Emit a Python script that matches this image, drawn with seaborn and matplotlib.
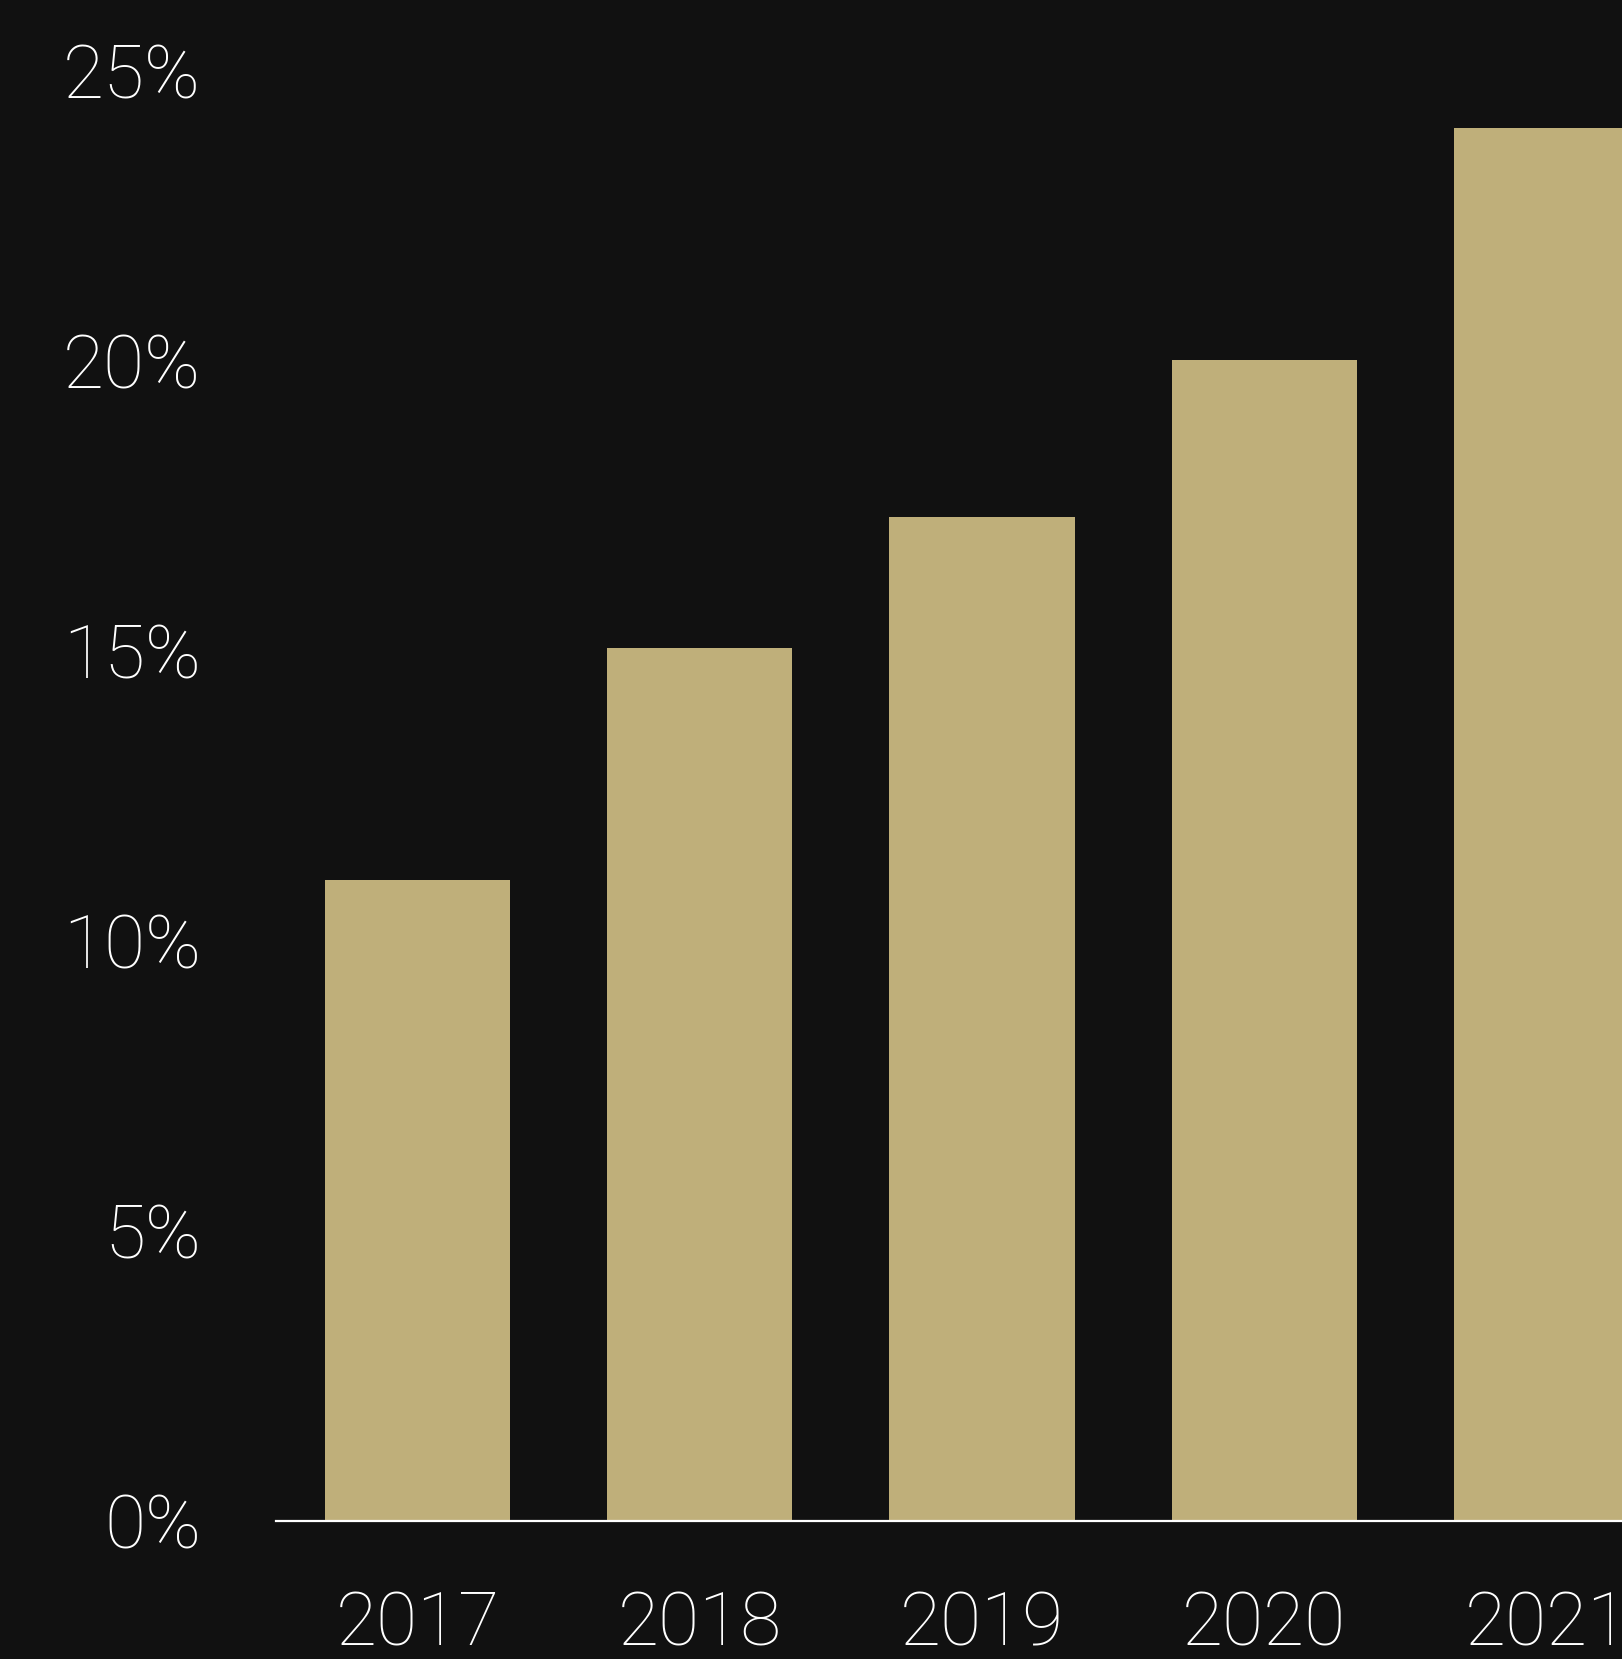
import matplotlib
matplotlib.use("Agg")
import matplotlib.pyplot as plt
import seaborn as sns
import pandas as pd

years = ["2017", "2018", "2019", "2020", "2021"]
shares = [11.05, 15.05, 17.3, 20.0, 24.0]
y_ticks = [0, 5, 10, 15, 20, 25]
y_labels = [f"{t}%" for t in y_ticks]

bg = "#111111"
gold = "#BFAF7A"

sns.set_theme(style="dark")
plt.rcParams["font.family"] = ["Roboto", "DejaVu Sans"]

df = pd.DataFrame({"year": years, "share": shares})

fig = plt.figure(figsize=(16.22, 16.59), dpi=100, facecolor=bg)
ax = fig.add_axes([0.1702, 0.0832, 0.8298, 0.8745])
ax.set_facecolor(bg)

sns.barplot(data=df, x="year", y="share", color=gold, saturation=1,
            width=0.656, linewidth=0, edgecolor="none", ax=ax)

ax.set_xlim(-0.501, 4.267)
ax.set_ylim(0, 25)
ax.set_yticks(y_ticks)
ax.set_yticklabels(y_labels)
ax.set_xlabel("")
ax.set_ylabel("")
ax.grid(False)

for side in ["top", "right", "left"]:
    ax.spines[side].set_visible(False)
ax.spines["bottom"].set_color("white")
ax.spines["bottom"].set_linewidth(1.6)

ax.tick_params(axis="y", length=0, pad=54, colors="white", labelsize=54)
ax.tick_params(axis="x", length=0, pad=49, colors="white", labelsize=54)
for lab in ax.get_xticklabels() + ax.get_yticklabels():
    lab.set_fontweight("light")

fig.savefig("out.png", dpi=100, facecolor=bg)
